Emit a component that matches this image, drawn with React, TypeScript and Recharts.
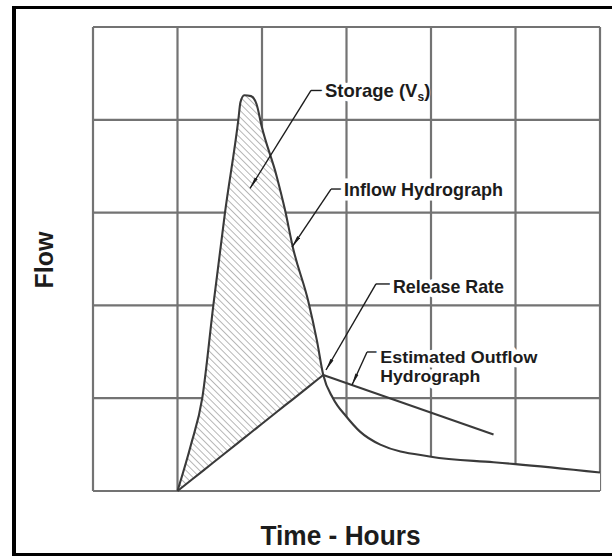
// ─── Detention storage sketch: inflow vs. estimated outflow ──────────────────
import React from 'react';
import {
  ComposedChart,
  Line,
  Area,
  XAxis,
  YAxis,
  CartesianGrid,
  ReferenceLine,
  ReferenceDot,
  Label,
} from 'recharts';

// time in grid units (hours), flow in grid units
const hours = [
  1.0, 1.16, 1.293, 1.424, 1.562, 1.72, 1.745, 1.79, 1.87, 1.935, 1.996, 2.174,
  2.272, 2.364, 2.549, 2.65, 2.725, 2.84, 3.0, 3.16, 3.4, 4.0, 4.74, 5.0, 6.0,
];
const inflow = [
  0, 0.5, 1.0, 2.0, 3.0, 4.0, 4.19, 4.265, 4.255, 4.17, 3.93, 3.39,
  3.03, 2.63, 2.04, 1.62, 1.25, 1.0, 0.8, 0.64, 0.5, 0.37, 0.31, 0.29, 0.2,
];
// straight release-rate line up to the crossing with the inflow
const releaseRate: (number | null)[] = [
  0, 0.116, 0.212, 0.307, 0.407, 0.522, 0.54, 0.572, 0.63, 0.678, 0.722, 0.851,
  0.922, 0.988, 1.122, 1.196, 1.25, null, null, null, null, null, null, null, null,
];
// estimated outflow recession after the crossing
const estOutflow: (number | null)[] = [
  null, null, null, null, null, null, null, null, null, null, null, null,
  null, null, null, null, 1.25, null, null, null, null, null, 0.61, null, null,
];
const xTicks = [0, 1, 2, 3, 4, 5, 6];
const yTicks = [0, 1, 2, 3, 4, 5];

const rows = hours.map((t, i) => ({
  t,
  inflow: inflow[i],
  release: releaseRate[i],
  outflow: estOutflow[i],
  storage: releaseRate[i] == null ? null : [releaseRate[i], inflow[i]],
}));

const FONT = "'Liberation Sans', Arial, Helvetica, sans-serif";
const GRID = '#737373';
const INK = '#3a3a3a';

const noteStyle = {
  fontFamily: FONT,
  fontWeight: 700,
  fontSize: 19,
  fill: '#1c1c1c',
  stroke: '#fff',
  strokeWidth: 9,
  strokeLinejoin: 'round' as const,
  paintOrder: 'stroke',
};

const NoTick = () => <g />;

const leader = (arrow: boolean) => (p: any) => (
  <line
    x1={p.x1}
    y1={p.y1}
    x2={p.x2}
    y2={p.y2}
    stroke="#1c1c1c"
    strokeWidth={1.4}
    markerEnd={arrow ? 'url(#dart)' : undefined}
  />
);

const App: React.FC = () => (
  <div
    style={{
      position: 'fixed',
      left: 0,
      top: 0,
      width: 612,
      height: 558,
      overflow: 'hidden',
      background: '#fff',
    }}
  >
    <div
      style={{
        position: 'absolute',
        left: 12,
        top: 6,
        width: 620,
        height: 550,
        boxSizing: 'border-box',
        borderTop: '3px solid #000',
        borderBottom: '3px solid #000',
        borderLeft: '4px solid #000',
      }}
    />
    <div style={{ position: 'absolute', left: 0, top: 0 }}>
      <ComposedChart width={612} height={558} data={rows} margin={{ top: 27, right: 12, bottom: 0, left: 0 }}>
        <defs>
          <pattern id="hatch" width="4.8" height="4.8" patternUnits="userSpaceOnUse" patternTransform="rotate(-45)">
            <rect x="0" y="0" width="4.8" height="4.8" fill="#fff" />
            <line x1="0" y1="0" x2="0" y2="4.8" stroke="#a0a0a0" strokeWidth="1.5" />
          </pattern>
          <marker
            id="dart"
            viewBox="0 0 12 4"
            refX="12"
            refY="2"
            markerWidth="12"
            markerHeight="4"
            markerUnits="userSpaceOnUse"
            orient="auto"
          >
            <path d="M0,0.3 L12,2 L0,3.7 Z" fill="#1c1c1c" />
          </marker>
        </defs>
        <XAxis
          type="number"
          dataKey="t"
          domain={[0, 6]}
          ticks={xTicks}
          tick={NoTick}
          tickLine={false}
          axisLine={false}
          height={67}
        >
          <Label
            content={(p: any) => (
              <text
                x={p.viewBox.x + p.viewBox.width / 2 - 6}
                y={p.viewBox.y + 54}
                textAnchor="middle"
                textLength={160}
                lengthAdjust="spacingAndGlyphs"
                style={{ fontFamily: FONT, fontWeight: 700, fontSize: 28, fill: '#1c1c1c' }}
              >
                Time - Hours
              </text>
            )}
          />
        </XAxis>
        <YAxis
          type="number"
          domain={[0, 5]}
          ticks={yTicks}
          tick={NoTick}
          tickLine={false}
          axisLine={false}
          width={93}
        >
          <Label
            content={(p: any) => {
              const x = p.viewBox.x + 53;
              const y = p.viewBox.y + p.viewBox.height / 2 + 1;
              return (
                <text
                  x={x}
                  y={y}
                  transform={`rotate(-90, ${x}, ${y})`}
                  textAnchor="middle"
                  style={{ fontFamily: FONT, fontWeight: 700, fontSize: 25, fill: '#1c1c1c' }}
                >
                  Flow
                </text>
              );
            }}
          />
        </YAxis>
        <CartesianGrid stroke={GRID} strokeWidth={2.2} />

        {/* region under the inflow hides the grid; storage is hatched */}
        <Area dataKey="inflow" type="monotone" fill="#fff" fillOpacity={1} stroke="none" isAnimationActive={false} />
        <Area dataKey="storage" type="monotone" fill="url(#hatch)" fillOpacity={1} stroke="none" isAnimationActive={false} />
        <ReferenceLine y={0} stroke={GRID} strokeWidth={2.2} />

        {/* annotation text */}
        <ReferenceDot
          x={2.745}
          y={4.246}
          r={0}
          shape={(p: any) => (
            <text x={p.cx} y={p.cy} style={{ ...noteStyle, fontSize: 18.5 }}>
              Storage (V
              <tspan dy={4} fontSize={12} strokeWidth={3}>
                s
              </tspan>
              <tspan dy={-4} strokeWidth={1}>
                )
              </tspan>
            </text>
          )}
        />
        <ReferenceDot
          x={2.97}
          y={3.179}
          r={0}
          shape={(p: any) => (
            <text x={p.cx} y={p.cy} textLength={159} lengthAdjust="spacingAndGlyphs" style={noteStyle}>
              Inflow Hydrograph
            </text>
          )}
        />
        <ReferenceDot
          x={3.55}
          y={2.134}
          r={0}
          shape={(p: any) => (
            <text x={p.cx} y={p.cy} textLength={111} lengthAdjust="spacingAndGlyphs" style={noteStyle}>
              Release Rate
            </text>
          )}
        />
        <ReferenceDot
          x={3.4}
          y={1.375}
          r={0}
          shape={(p: any) => (
            <text x={p.cx} y={p.cy} style={{ ...noteStyle, fontSize: 16.5 }}>
              <tspan x={p.cx} textLength={157} lengthAdjust="spacingAndGlyphs">
                Estimated Outflow
              </tspan>
              <tspan x={p.cx} dy={18.5} textLength={100} lengthAdjust="spacingAndGlyphs">
                Hydrograph
              </tspan>
            </text>
          )}
        />

        <Line dataKey="inflow" type="monotone" stroke={INK} strokeWidth={2.1} dot={false} isAnimationActive={false} />
        <Line dataKey="release" type="linear" stroke={INK} strokeWidth={2.1} dot={false} isAnimationActive={false} />
        <Line
          dataKey="outflow"
          type="linear"
          connectNulls
          stroke={INK}
          strokeWidth={2.1}
          dot={false}
          isAnimationActive={false}
        />

        {/* leaders */}
        <ReferenceLine segment={[{ x: 2.734, y: 4.316 }, { x: 2.58, y: 4.316 }]} shape={leader(false)} />
        <ReferenceLine segment={[{ x: 2.58, y: 4.316 }, { x: 1.858, y: 3.261 }]} shape={leader(true)} />
        <ReferenceLine segment={[{ x: 2.959, y: 3.254 }, { x: 2.817, y: 3.254 }]} shape={leader(false)} />
        <ReferenceLine segment={[{ x: 2.817, y: 3.254 }, { x: 2.355, y: 2.629 }]} shape={leader(true)} />
        <ReferenceLine segment={[{ x: 3.515, y: 2.231 }, { x: 3.349, y: 2.231 }]} shape={leader(false)} />
        <ReferenceLine segment={[{ x: 3.349, y: 2.231 }, { x: 2.757, y: 1.304 }]} shape={leader(true)} />
        <ReferenceLine segment={[{ x: 3.373, y: 1.498 }, { x: 3.243, y: 1.498 }]} shape={leader(false)} />
        <ReferenceLine segment={[{ x: 3.243, y: 1.498 }, { x: 3.065, y: 1.142 }]} shape={leader(true)} />
      </ComposedChart>
    </div>
  </div>
);

export default App;
